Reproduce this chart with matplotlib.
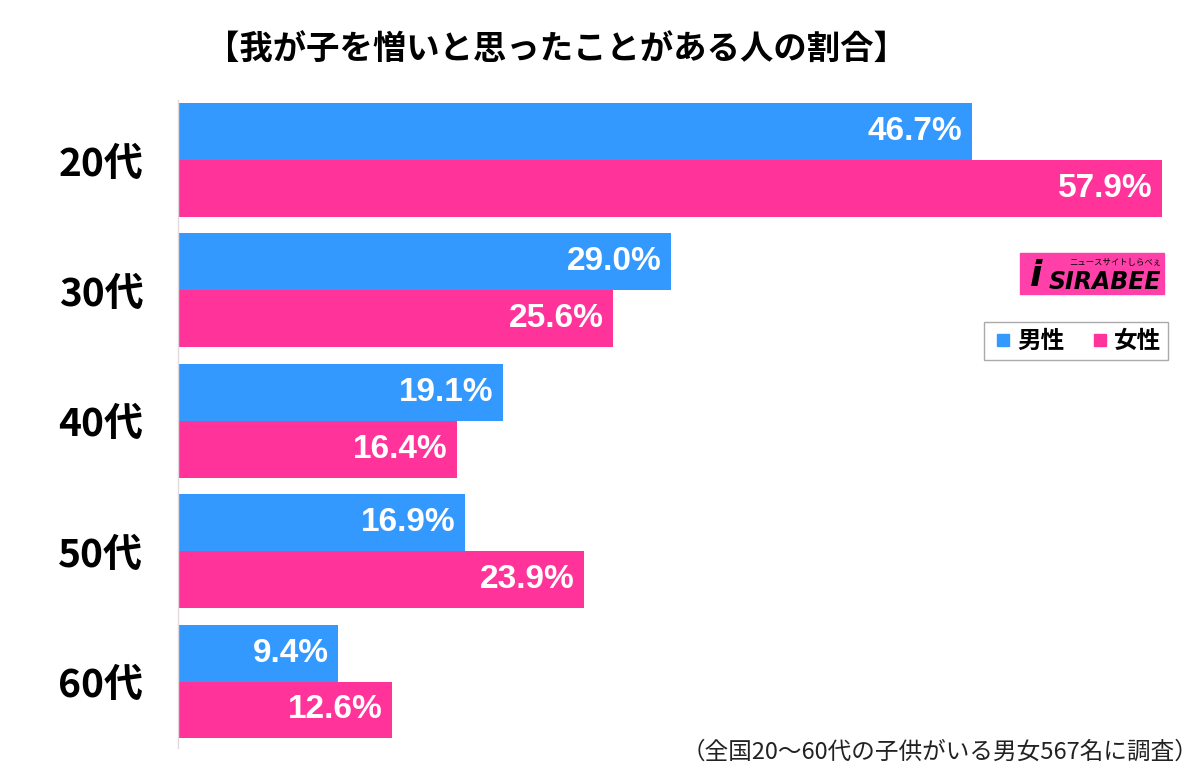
import matplotlib
matplotlib.use('Agg')
from matplotlib import pyplot as plt
from matplotlib.lines import Line2D
from matplotlib.patches import Rectangle
import numpy as np

plt.rcParams['font.family'] = ['Noto Sans CJK JP', 'DejaVu Sans']

ages = ['20代', '30代', '40代', '50代', '60代']
male = [46.7, 29.0, 19.1, 16.9, 9.4]
female = [57.9, 25.6, 16.4, 23.9, 12.6]
series_names = ['男性', '女性']
title = '【我が子を憎いと思ったことがある人の割合】'
note = '（全国20～60代の子供がいる男女567名に調査）'

blue = '#3399ff'
pink = '#ff3399'

fig = plt.figure(figsize=(12, 7.74), dpi=100)
ax = fig.add_axes([178 / 1200, 1 - 748 / 774, 1020 / 1200, 648 / 774])

y = np.arange(len(ages))
h = 0.437
ax.barh(y - h / 2, male, height=h, color=blue)
ax.barh(y + h / 2, female, height=h, color=pink)

for yi, v in zip(y - h / 2, male):
    ax.text(v - 0.55, yi, f'{v:.1f}%', ha='right', va='center', color='white',
            fontsize=24, fontweight='bold', family=['Liberation Sans', 'DejaVu Sans'])
for yi, v in zip(y + h / 2, female):
    ax.text(v - 0.55, yi, f'{v:.1f}%', ha='right', va='center', color='white',
            fontsize=24, fontweight='bold', family=['Liberation Sans', 'DejaVu Sans'])

ax.set_xlim(0, 60)
ax.set_ylim(4.51, -0.46)
ax.set_yticks(y)
ax.set_yticklabels(ages, fontsize=28, fontweight='bold')
ax.tick_params(axis='y', length=0, pad=25)
ax.set_xticks([])
for s in ['top', 'right', 'bottom']:
    ax.spines[s].set_visible(False)
ax.spines['left'].set_color('#e2d9dd')
ax.spines['left'].set_linewidth(1)

fig.text(556 / 1200, 1 - 50 / 774, title, ha='center', va='center',
         fontsize=24, fontweight='bold')
fig.text(1198 / 1200, 1 - 752 / 774, note, ha='right', va='center',
         fontsize=17, color='#222222')

handles = [Line2D([], [], marker='s', linestyle='none', color=c, markersize=9)
           for c in (blue, pink)]
leg = ax.legend(handles, series_names, loc='upper right', ncol=2,
                bbox_to_anchor=(1168 / 1200, 1 - 322 / 774),
                bbox_transform=fig.transFigure, borderaxespad=0,
                fancybox=False, framealpha=1, edgecolor='#aaaaaa',
                prop={'size': 17, 'weight': 'bold'}, handletextpad=0.1,
                columnspacing=1.0, handlelength=1.0, borderpad=0.3)
leg.get_frame().set_linewidth(1)

# site logo
fig.patches.append(Rectangle((1020 / 1200, 1 - 294 / 774), 144 / 1200, 41 / 774,
                             transform=fig.transFigure, color='#ff40a8', zorder=5))
fig.text(1036 / 1200, 1 - 276 / 774, 'i', ha='center', va='center', fontsize=26,
         fontweight='bold', fontstyle='italic', color='black', zorder=6,
         family=['DejaVu Sans'])
fig.text(1161 / 1200, 1 - 282 / 774, 'SIRABEE', ha='right', va='center', fontsize=17,
         fontweight='bold', fontstyle='italic', color='black', zorder=6,
         family=['DejaVu Sans'])
fig.text(1161 / 1200, 1 - 262 / 774, 'ニュースサイトしらべぇ', ha='right', va='center',
         fontsize=6, color='black', zorder=6)

fig.savefig('out.png', dpi=100)
